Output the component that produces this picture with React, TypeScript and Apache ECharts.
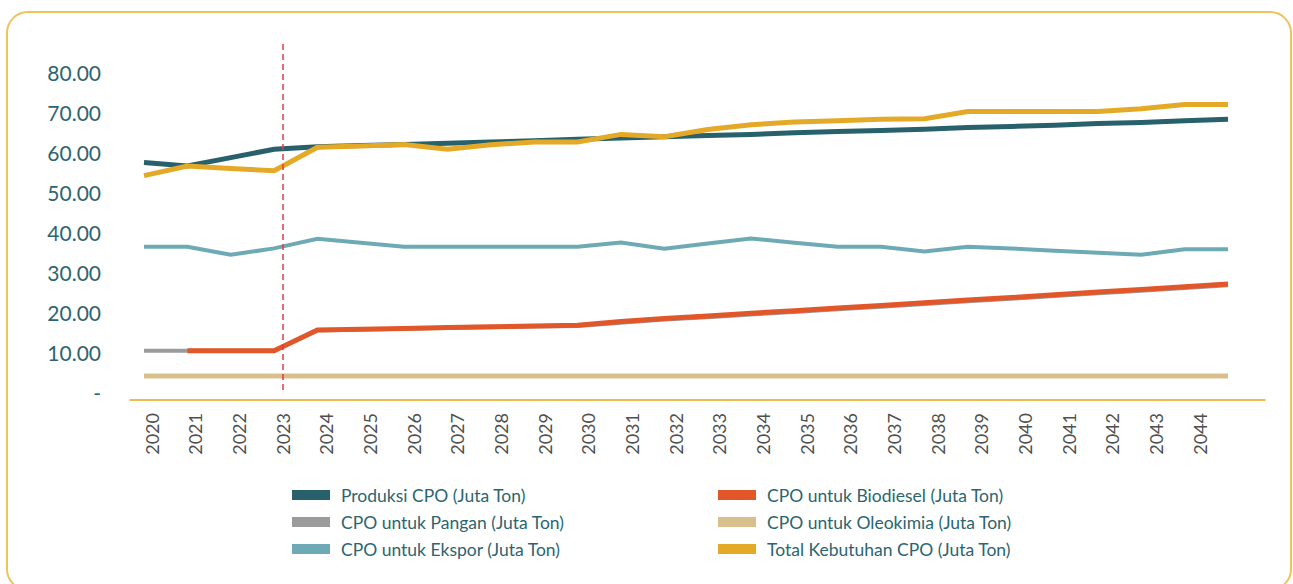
import React, { useEffect, useRef } from 'react';
import * as echarts from 'echarts';

// ---------- data ----------
const years = [
  '2020', '2021', '2022', '2023', '2024', '2025', '2026', '2027', '2028', '2029',
  '2030', '2031', '2032', '2033', '2034', '2035', '2036', '2037', '2038', '2039',
  '2040', '2041', '2042', '2043', '2044', '2045',
];
const xTickLabels = [
  '2020', '2021', '2022', '2023', '2024', '2025', '2026', '2027', '2028', '2029',
  '2030', '2031', '2032', '2033', '2034', '2035', '2036', '2037', '2038', '2039',
  '2040', '2041', '2042', '2043', '2044', '',
];

const produksi = [57.4, 56.5, 58.6, 60.7, 61.3, 61.6, 61.9, 62.2, 62.5, 62.8, 63.2, 63.5, 63.8, 64.1, 64.4, 64.8, 65.1, 65.4, 65.7, 66.1, 66.4, 66.7, 67.1, 67.4, 67.8, 68.2];
const pangan = [10.3, 10.3, 10.3, 10.3, 15.4, 15.6, 15.8, 16.0, 16.2, 16.4, 16.5, 17.3, 18.1, 18.7, 19.4, 20.0, 20.7, 21.3, 22.0, 22.7, 23.3, 24.0, 24.7, 25.3, 26.0, 26.7];
const ekspor = [36.3, 36.3, 34.3, 35.9, 38.3, 37.3, 36.3, 36.3, 36.3, 36.3, 36.3, 37.4, 35.8, 37.1, 38.4, 37.3, 36.3, 36.3, 35.1, 36.3, 35.9, 35.3, 34.8, 34.3, 35.7, 35.7];
const biodiesel = [null, 10.3, 10.3, 10.3, 15.5, 15.7, 15.9, 16.1, 16.3, 16.5, 16.7, 17.6, 18.4, 19.0, 19.7, 20.3, 21.0, 21.6, 22.3, 23.0, 23.6, 24.3, 25.0, 25.6, 26.3, 27.0];
const oleokimia = [4.0, 4.0, 4.0, 4.0, 4.0, 4.0, 4.0, 4.0, 4.0, 4.0, 4.0, 4.0, 4.0, 4.0, 4.0, 4.0, 4.0, 4.0, 4.0, 4.0, 4.0, 4.0, 4.0, 4.0, 4.0, 4.0];
const total = [54.1, 56.5, 55.9, 55.3, 61.2, 61.5, 61.9, 60.7, 61.8, 62.5, 62.5, 64.4, 63.8, 65.6, 66.8, 67.5, 67.8, 68.2, 68.3, 70.1, 70.1, 70.1, 70.1, 70.8, 71.9, 71.9];

const seriesNames = [
  'Produksi CPO (Juta Ton)',
  'CPO untuk Pangan (Juta Ton)',
  'CPO untuk Ekspor (Juta Ton)',
  'CPO untuk Biodiesel (Juta Ton)',
  'CPO untuk Oleokimia (Juta Ton)',
  'Total Kebutuhan CPO (Juta Ton)',
];

const markerYear = '2023';
const markerTop = 87;

// ---------- styles ----------
const colors = ['#28606b', '#9b9b9b', '#6eaab6', '#e1572a', '#d8bf8b', '#e4aa27'];
const widths = [5, 4, 4, 5, 5, 5];
const tealText = '#2b6570';
const FONT = 'Lato, "Open Sans", sans-serif';

export default function App() {
  const ref = useRef<HTMLDivElement>(null);

  useEffect(() => {
    if (!ref.current) return;
    const chart = echarts.init(ref.current, null, { renderer: 'svg' });
    const datasets = [produksi, pangan, ekspor, biodiesel, oleokimia, total];

    const series: any[] = datasets.map((d, i) => ({
      name: seriesNames[i],
      type: 'line',
      xAxisIndex: 0,
      yAxisIndex: 0,
      data: d,
      symbol: 'none',
      showSymbol: false,
      connectNulls: false,
      color: colors[i],
      lineStyle: { color: colors[i], width: widths[i], cap: 'butt', join: 'miter' },
      z: 2 + i,
    }));

    // reference divider drawn on the label axis
    series.push({
      name: 'divider',
      type: 'line',
      xAxisIndex: 1,
      yAxisIndex: 1,
      data: [],
      symbol: 'none',
      silent: true,
      markLine: {
        silent: true,
        symbol: 'none',
        label: { show: false },
        lineStyle: { color: '#e23b45', width: 1.5, type: [6, 4] },
        z: 20,
        data: [[{ coord: [markerYear, markerTop] }, { coord: [markerYear, 0] }]],
      },
      z: 20,
    });

    const legendBase = {
      orient: 'vertical',
      top: 486,
      padding: 0,
      itemWidth: 38,
      itemHeight: 10,
      itemGap: 9,
      icon: 'rect',
      selectedMode: false,
      textStyle: {
        fontFamily: FONT,
        fontSize: 17.5,
        color: tealText,
        padding: [0, 0, 0, 6],
      },
    };

    chart.setOption({
      animation: false,
      textStyle: { fontFamily: FONT },
      grid: [
        { left: 144, right: 65, top: 32, bottom: 192, containLabel: false },
        { left: 130, right: 28, top: 32, bottom: 192, containLabel: false },
      ],
      xAxis: [
        {
          type: 'category',
          gridIndex: 0,
          data: years,
          boundaryGap: false,
          show: false,
        },
        {
          type: 'category',
          gridIndex: 1,
          data: xTickLabels,
          boundaryGap: true,
          position: 'bottom',
          offset: 8,
          axisLine: { show: true, onZero: false, lineStyle: { color: '#e9a714', width: 1.5 } },
          axisTick: { show: false },
          splitLine: { show: false },
          axisLabel: {
            rotate: 90,
            interval: 0,
            margin: 13,
            fontFamily: FONT,
            fontSize: 18,
            color: '#505050',
          },
        },
      ],
      yAxis: [
        {
          type: 'value',
          gridIndex: 0,
          min: 0,
          max: 90,
          interval: 10,
          axisLine: { show: false },
          axisTick: { show: false },
          splitLine: { show: false },
          axisLabel: {
            margin: 43,
            fontFamily: FONT,
            fontSize: 21,
            color: tealText,
            formatter: (v: number) => (v === 0 ? '-' : v >= 90 ? '' : v.toFixed(2)),
          },
        },
        {
          type: 'value',
          gridIndex: 1,
          min: 0,
          max: 90,
          interval: 10,
          show: false,
        },
      ],
      legend: [
        { ...legendBase, left: 292, data: seriesNames.slice(0, 3) },
        { ...legendBase, left: 718, data: seriesNames.slice(3, 6) },
      ],
      series,
    });

    return () => chart.dispose();
  }, []);

  return (
    <div
      style={{
        position: 'fixed',
        left: 0,
        top: 0,
        width: 1293,
        height: 584,
        overflow: 'hidden',
        background: '#ffffff',
      }}
    >
      <div
        style={{
          position: 'absolute',
          left: 6,
          top: 11,
          width: 1286,
          height: 580,
          border: '2px solid #efc35c',
          borderRadius: 22,
          boxSizing: 'border-box',
        }}
      />
      <div ref={ref} style={{ position: 'absolute', left: 0, top: 0, width: 1293, height: 584 }} />
    </div>
  );
}
